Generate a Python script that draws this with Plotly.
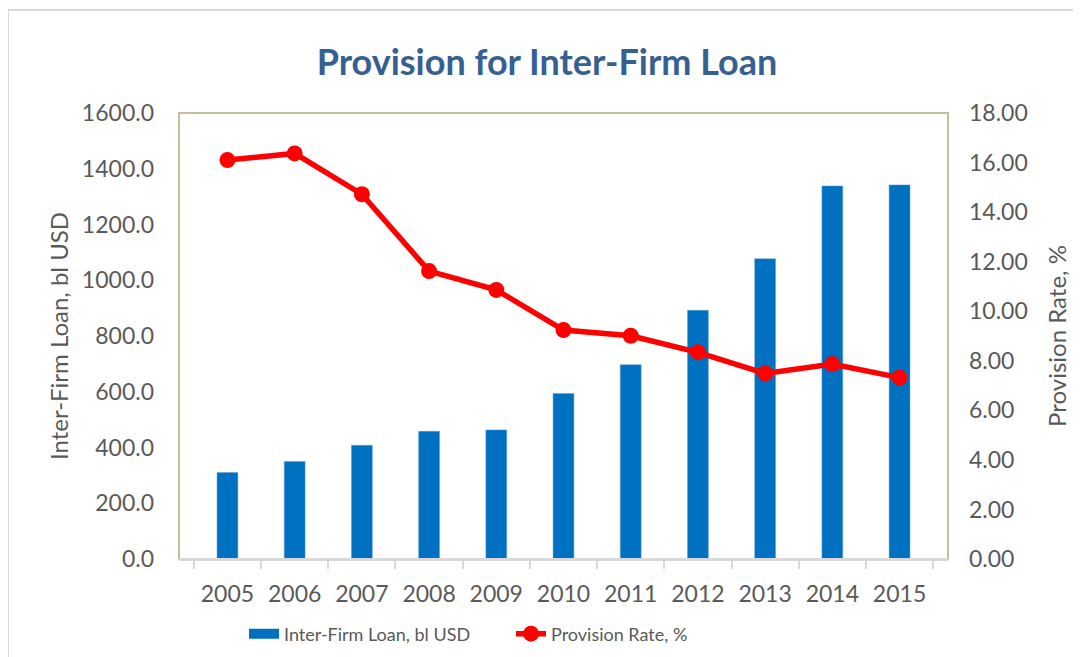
import plotly.graph_objects as go

years = ["2005", "2006", "2007", "2008", "2009", "2010", "2011", "2012", "2013", "2014", "2015"]
loan = [310, 350, 408, 458, 463, 594, 697, 892, 1077, 1338, 1342]
rate = [16.10, 16.37, 14.72, 11.62, 10.86, 9.24, 9.01, 8.34, 7.49, 7.87, 7.32]

FONT = "Lato"
GRAY = "#595959"
BLUE = "#0070C0"
RED = "#FF0000"

fig = go.Figure()
fig.add_trace(go.Bar(
    x=years, y=loan, name="Inter-Firm Loan, bl USD",
    marker=dict(color=BLUE, line=dict(color="#5B9BD5", width=0.5)),
    yaxis="y", showlegend=False, legendgroup="loan",
))
# legend entry for the bars (wide rectangle swatch like the original)
fig.add_trace(go.Scatter(
    x=[None], y=[None], name="Inter-Firm Loan, bl USD", mode="lines",
    line=dict(color=BLUE, width=13), legendgroup="loan", yaxis="y",
))
fig.add_trace(go.Scatter(
    x=years, y=rate, name="Provision Rate, %", mode="lines+markers",
    line=dict(color=RED, width=5.5),
    marker=dict(color=RED, size=16),
    yaxis="y2",
))

# page body has an 8px margin; plot area in window pixels: x 179..948, y 113..559
PX0, PX1, PY0, PY1 = 179, 948, 113, 559
PW, PH = PX1 - PX0, PY1 - PY0

def px(x):
    return (x - PX0) / PW

def py(y):
    return (PY1 - y) / PH

fig.update_layout(
    width=1073, height=649,
    margin=dict(l=171, r=133, t=105, b=98, autoexpand=False),
    paper_bgcolor="white", plot_bgcolor="white",
    font=dict(family=FONT, color=GRAY, size=20),
    title=dict(text="<b>Provision for Inter-Firm Loan</b>", x=0.4785, xanchor="center",
               xref="paper",
               y=1 - 54 / 649, yanchor="middle",
               font=dict(family=FONT, size=36, color="#376092")),
    bargap=0.69,
    showlegend=True,
    legend=dict(orientation="h", x=px(244), xanchor="left", y=py(634), yanchor="middle",
                font=dict(family=FONT, size=18, color=GRAY), entrywidth=222,
                traceorder="normal", bgcolor="rgba(0,0,0,0)"),
    xaxis=dict(type="category", showline=True, linecolor="#D9D9D9", linewidth=2,
               ticks="outside", tickson="boundaries", ticklen=8, tickcolor="#D9D9D9",
               tickwidth=2, showgrid=False, mirror=False, ticklabelstandoff=13,
               automargin=False,
               tickfont=dict(size=23, color=GRAY)),
    yaxis=dict(range=[0, 1600], dtick=200, tickformat=".1f", showgrid=False,
               zeroline=False, showline=False, ticks="", ticklabelstandoff=24,
               automargin=False,
               title=dict(text="Inter-Firm Loan, bl USD", standoff=6,
                          font=dict(size=24, color=GRAY)),
               tickfont=dict(size=23, color=GRAY)),
    yaxis2=dict(range=[0, 18], dtick=2, tickformat=".2f", overlaying="y", side="right",
                showgrid=False, zeroline=False, showline=False, ticks="",
                ticklabelstandoff=20, automargin=False,
                title=dict(text="Provision Rate, %", standoff=22,
                           font=dict(size=24, color=GRAY)),
                tickfont=dict(size=23, color=GRAY)),
    shapes=[
        # outer chart border
        dict(type="rect", xref="paper", yref="paper",
             x0=px(8), x1=px(1100), y0=py(680), y1=py(10),
             line=dict(color="#D9D9D9", width=2), fillcolor="rgba(0,0,0,0)", layer="below"),
        # plot area border
        dict(type="rect", xref="paper", yref="paper", x0=0, x1=1, y0=0, y1=1,
             line=dict(color="#C4BD97", width=2), fillcolor="rgba(0,0,0,0)", layer="below"),
        dict(type="line", xref="paper", yref="paper", x0=0, x1=1, y0=0, y1=0,
             line=dict(color="#D9D9D9", width=2)),
    ],
)

fig.write_html("out.html")
